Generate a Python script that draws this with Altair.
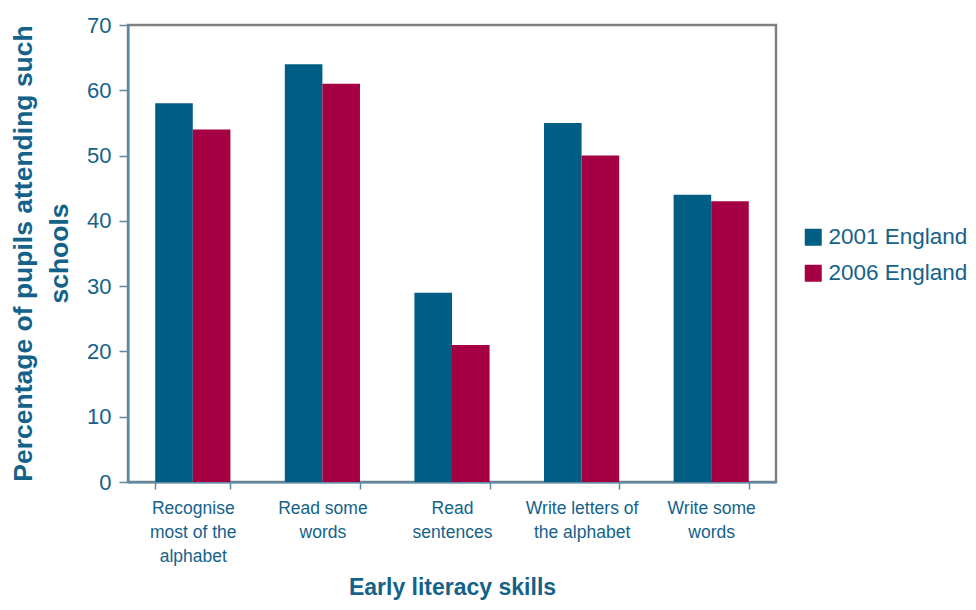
import altair as alt
import pandas as pd

categories = ["Recognise|most of the|alphabet", "Read some|words", "Read|sentences",
              "Write letters of|the alphabet", "Write some|words"]
series = ["2001 England", "2006 England"]
values_2001 = [58, 64, 29, 55, 44]
values_2006 = [54, 61, 21, 50, 43]
colors = ["#005E85", "#A50044"]

rows = []
for c, a, b in zip(categories, values_2001, values_2006):
    rows.append({"skill": c, "series": series[0], "value": a})
    rows.append({"skill": c, "series": series[1], "value": b})
df = pd.DataFrame(rows)

FONT = "Liberation Sans"
TXT = "#14628A"
AX = "#5A88A5"

chart = alt.Chart(df).mark_bar().encode(
    x=alt.X("skill:N", sort=categories,
            scale=alt.Scale(paddingInner=0.42, paddingOuter=0.21),
            axis=alt.Axis(title="Early literacy skills", labelAngle=0,
                          labelExpr="split(datum.label, '|')",
                          labelFont=FONT, labelFontSize=17.5, labelColor=TXT,
                          labelLineHeight=24, labelPadding=10,
                          tickBand="extent", tickSize=7, tickColor=AX,
                          domainColor=AX, domainWidth=2, tickWidth=1.5,
                          titleFont=FONT, titleFontSize=23, titleColor=TXT,
                          titleFontWeight="bold", titleY=94)),
    xOffset=alt.XOffset("series:N", sort=series),
    y=alt.Y("value:Q", scale=alt.Scale(domain=[0, 70]),
            axis=alt.Axis(title=["Percentage of pupils attending such", "schools"],
                          values=[0, 10, 20, 30, 40, 50, 60, 70], grid=False,
                          labelFont=FONT, labelFontSize=22, labelColor=TXT,
                          labelPadding=8, tickSize=9, tickColor=AX, tickWidth=1.5,
                          domainColor=AX, domainWidth=2,
                          titleFont=FONT, titleFontSize=26.5, titleColor=TXT,
                          titleFontWeight="bold", titleX=-91, titleY=228,
                          titleLineHeight=36)),
    color=alt.Color("series:N", sort=series,
                    scale=alt.Scale(domain=series, range=colors),
                    legend=alt.Legend(title=None, orient="none", legendX=674, legendY=201,
                                      symbolType="square", symbolSize=289,
                                      symbolStrokeWidth=0, labelFont=FONT,
                                      labelFontSize=22.5, labelColor=TXT,
                                      rowPadding=13, labelOffset=4)),
).properties(
    width=648, height=457,
    autosize=alt.AutoSizeParams(type="none"),
    padding={"left": 120, "top": 17, "right": 192, "bottom": 120},
).configure_view(
    stroke="#808080", strokeWidth=2.5
).configure_axis(
    labelFontWeight="normal"
)

chart.save("out.html", embed_options={"renderer": "svg", "actions": False})
